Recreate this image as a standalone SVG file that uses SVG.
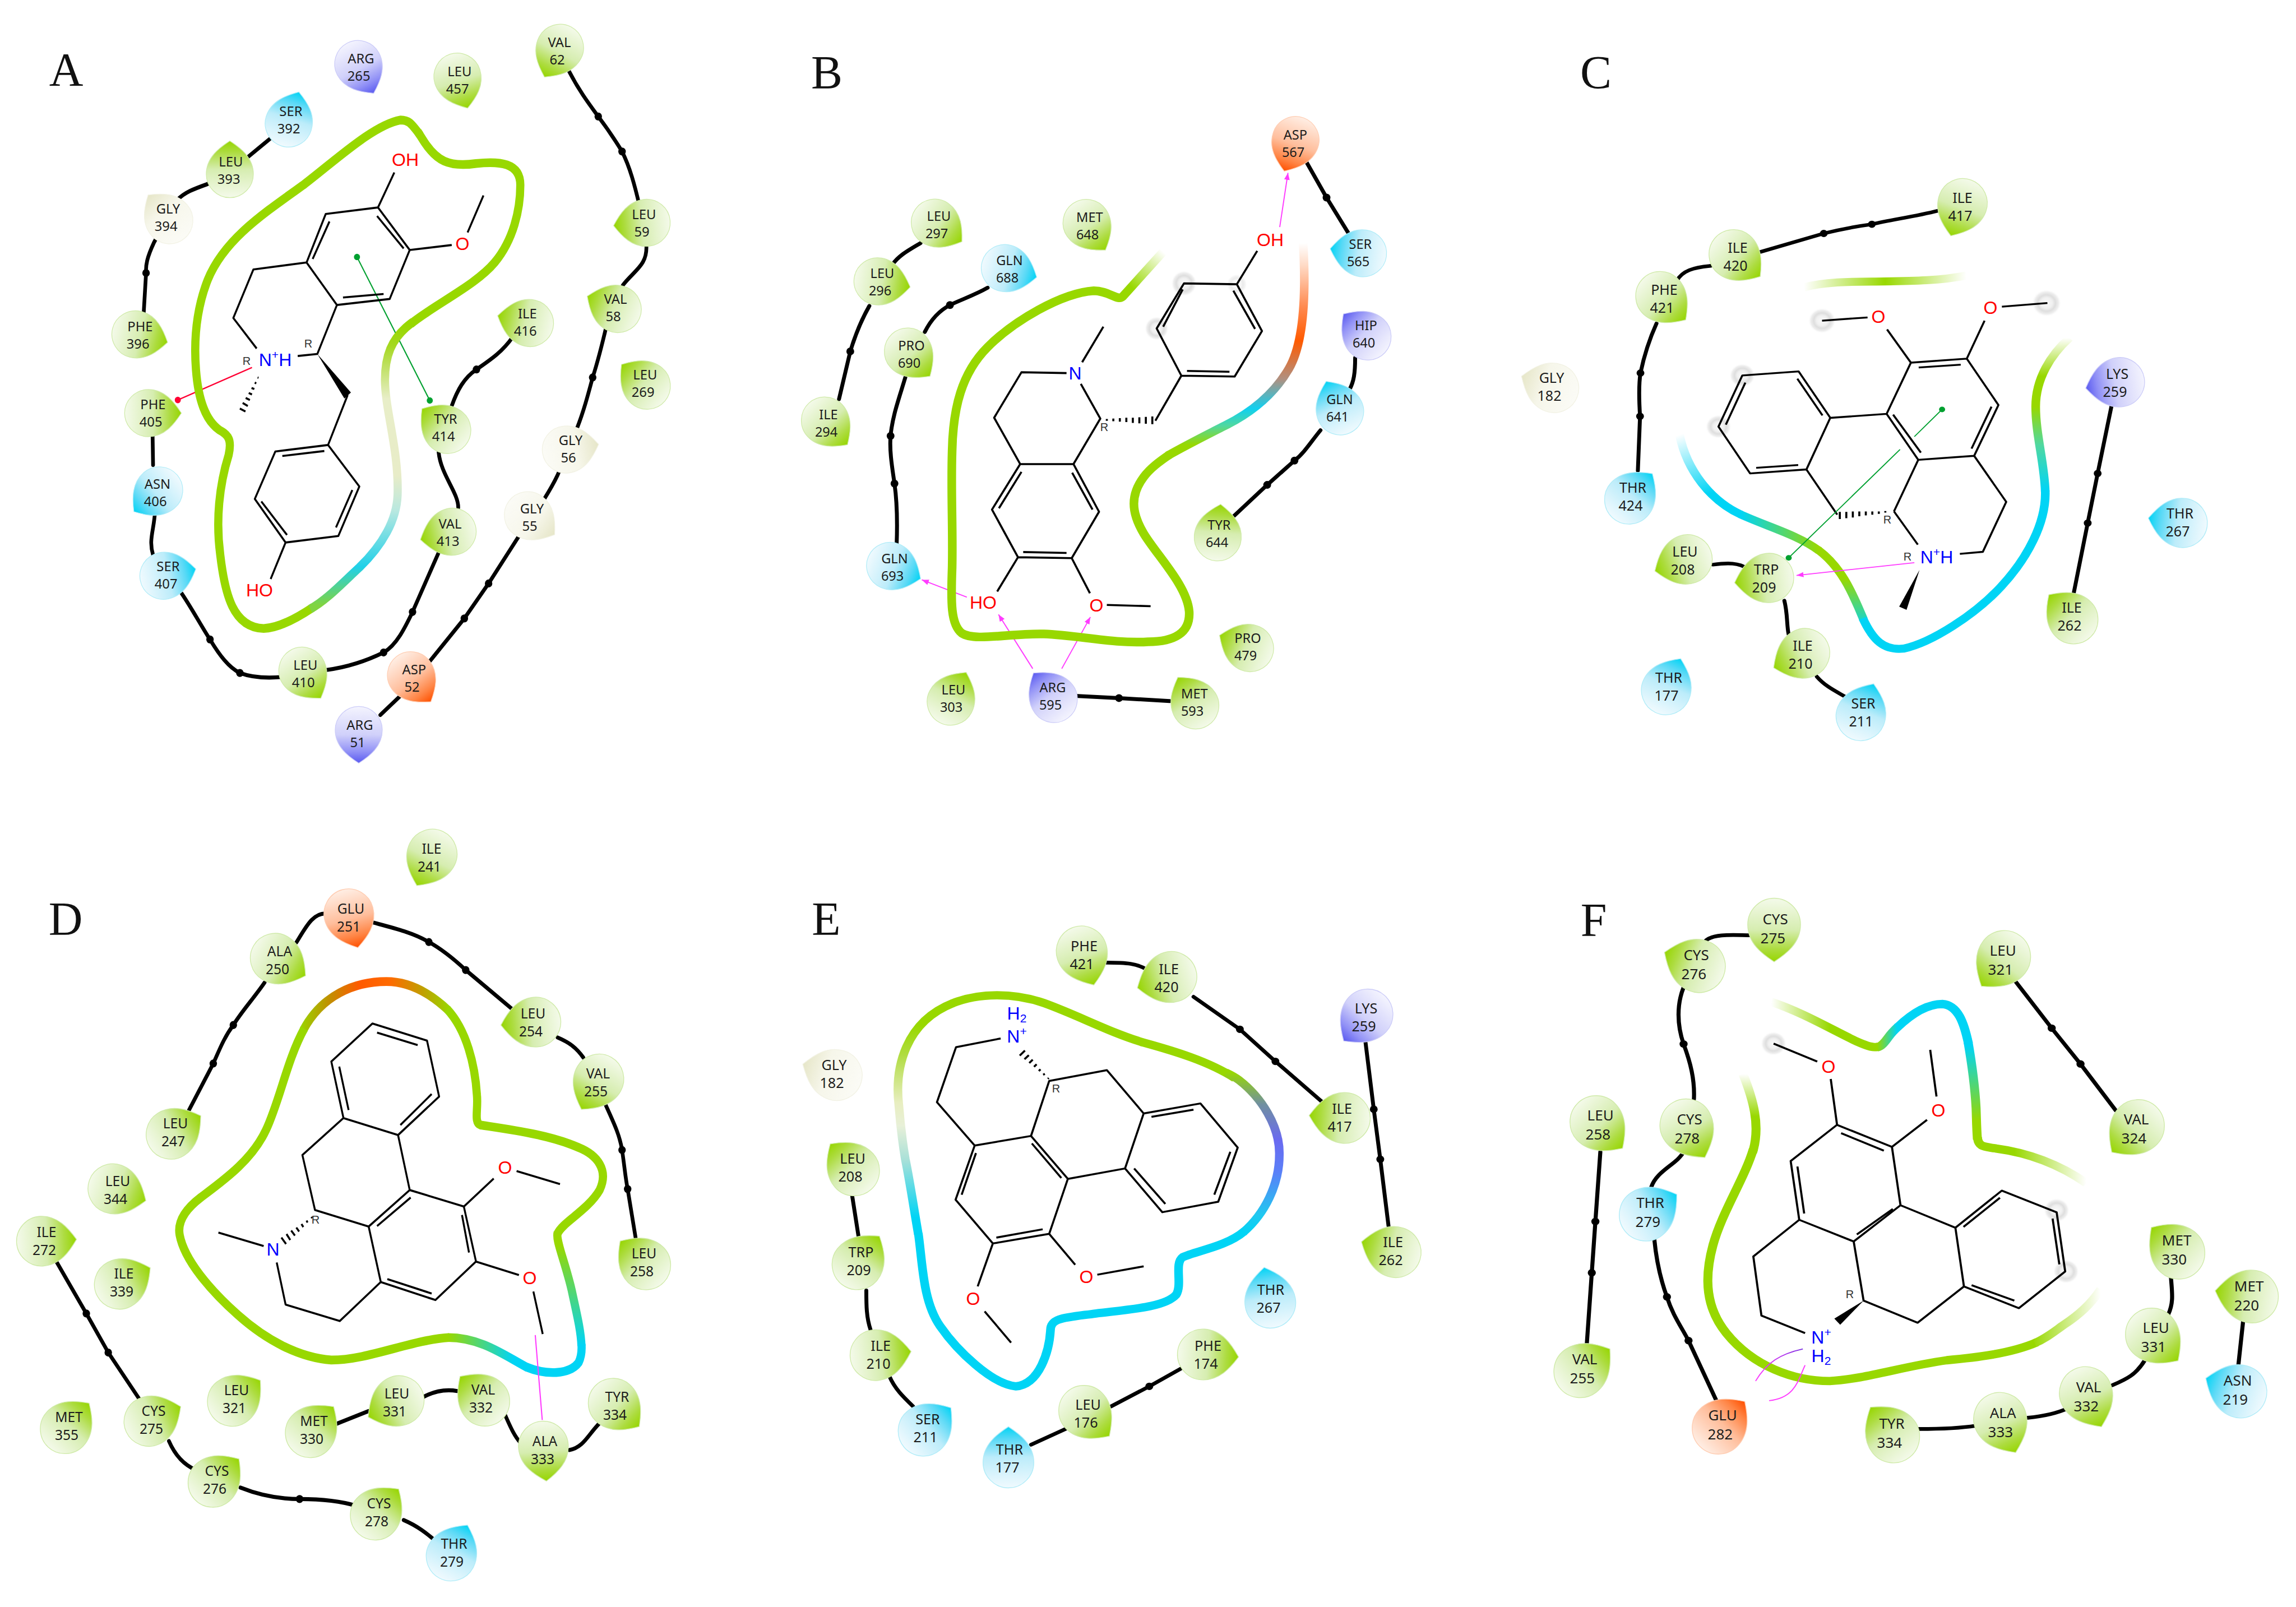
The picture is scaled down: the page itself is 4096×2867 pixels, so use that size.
<svg xmlns="http://www.w3.org/2000/svg" width="4096" height="2867" viewBox="0 0 4096 2867">
<style>
text{font-family:"Noto Sans","Open Sans","Liberation Sans",sans-serif;fill:#1c1c1c}
.n text{text-anchor:middle}
.pA .n{font-size:23.8px}.pB .n{font-size:23.6px}.pC .n{font-size:25px}.pD .n{font-size:24.6px}.pE .n{font-size:25.2px}.pF .n{font-size:26px}
.pA use{scale:.955}.pB use{scale:.955}.pC use{scale:1}.pD use{scale:1.01}.pE use{scale:1.03}.pF use{scale:1.07}
.bb,.rb,.m,.t{fill:none;stroke-linejoin:round}
.bb{stroke:#000;stroke-linecap:round}
.d{fill:#000}
.rb{stroke:#98d800;stroke-linecap:butt}
.m{stroke:#000}
.wedge{fill:#000}
.pA .bb,.pD .bb{stroke-width:8}.pB .bb,.pC .bb,.pE .bb,.pF .bb{stroke-width:9}
.pA .rb,.pD .rb{stroke-width:17.5}.pB .rb,.pC .rb,.pE .rb,.pF .rb{stroke-width:20}
.pA .m,.pD .m{stroke-width:4.1}.pB .m,.pC .m,.pE .m,.pF .m{stroke-width:4.7}
.t{stroke-width:2.5}
.mg{stroke:#ff3cff}.gn{stroke:#00a030}.rd{stroke:#ff0033}
.l{font-family:"Liberation Sans",Arial,sans-serif;font-size:32px;text-anchor:middle;dominant-baseline:central}
.ox{fill:#ff0000}.az{fill:#0000ff}
.l.r{font-size:20px;fill:#333}
.s{font-size:21px}
.L{font-family:"Liberation Serif","Times New Roman",serif;font-size:84px;text-anchor:middle;fill:#111}
</style>
<defs>
<linearGradient id="gg" gradientUnits="userSpaceOnUse" x1="-51" x2="55" y1="0" y2="0"><stop offset="0" stop-color="#f4faea"/><stop offset=".5" stop-color="#d6edb0"/><stop offset=".8" stop-color="#addc40"/><stop offset="1" stop-color="#96d600"/></linearGradient>
<linearGradient id="gc" gradientUnits="userSpaceOnUse" x1="-51" x2="55" y1="0" y2="0"><stop offset="0" stop-color="#f0fafe"/><stop offset=".5" stop-color="#bcecfa"/><stop offset=".8" stop-color="#58d9f6"/><stop offset="1" stop-color="#00d4f5"/></linearGradient>
<linearGradient id="gv" gradientUnits="userSpaceOnUse" x1="-51" x2="55" y1="0" y2="0"><stop offset="0" stop-color="#f4f4fe"/><stop offset=".5" stop-color="#d0d0fa"/><stop offset=".8" stop-color="#9090f6"/><stop offset="1" stop-color="#5a5af0"/></linearGradient>
<linearGradient id="go" gradientUnits="userSpaceOnUse" x1="-51" x2="55" y1="0" y2="0"><stop offset="0" stop-color="#ffeee4"/><stop offset=".5" stop-color="#ffbe9c"/><stop offset=".8" stop-color="#ff8444"/><stop offset="1" stop-color="#ff5000"/></linearGradient>
<linearGradient id="gw" gradientUnits="userSpaceOnUse" x1="-51" x2="55" y1="0" y2="0"><stop offset="0" stop-color="#fbfbf6"/><stop offset=".6" stop-color="#f6f6ea"/><stop offset="1" stop-color="#e6e6c8"/></linearGradient>
<path id="dr" d="M55 0C42-20 24-44-7-44C-31-44-51-24-51 0C-51 24-31 44-7 44C24 44 42 20 55 0Z" stroke-width="1.3"/>
<g id="g"><use href="#dr" fill="url(#gg)" stroke="#cfeaa8" style="scale:1"/></g>
<g id="c"><use href="#dr" fill="url(#gc)" stroke="#b0ecf8" style="scale:1"/></g>
<g id="v"><use href="#dr" fill="url(#gv)" stroke="#ccccf8" style="scale:1"/></g>
<g id="o"><use href="#dr" fill="url(#go)" stroke="#ffcdb2" style="scale:1"/></g>
<g id="w"><use href="#dr" fill="url(#gw)" stroke="#f2f2e4" style="scale:1"/></g>
<radialGradient id="hl"><stop offset="0" stop-color="#fafafa"/><stop offset=".4" stop-color="#f0f0f0"/><stop offset=".6" stop-color="#dedede"/><stop offset=".82" stop-color="#efefef"/><stop offset="1" stop-color="#fff" stop-opacity="0"/></radialGradient>
<marker id="ah" viewBox="0 0 10 8" refX="10" refY="4" markerWidth="6.5" markerHeight="5.2" orient="auto"><path d="M0 0L10 4L0 8Z" fill="#ff3cff"/></marker>
<linearGradient id="ra" gradientUnits="userSpaceOnUse" x1="0" x2="0" y1="1240" y2="650"><stop offset=".05" stop-color="#80d440"/><stop offset=".18" stop-color="#20d0e8"/><stop offset=".37" stop-color="#b8e8e0"/><stop offset=".49" stop-color="#e8ecc8"/><stop offset=".75" stop-color="#e8eec8"/><stop offset=".93" stop-color="#a5d820"/><stop offset="1" stop-color="#98d800"/></linearGradient>
<linearGradient id="rb1" gradientUnits="userSpaceOnUse" x1="875" y1="400" x2="800" y2="480"><stop offset="0" stop-color="#fff"/><stop offset="1" stop-color="#98d800"/></linearGradient>
<linearGradient id="rb2" gradientUnits="userSpaceOnUse" x1="0" x2="0" y1="870" y2="380"><stop offset=".05" stop-color="#98d800"/><stop offset=".14" stop-color="#50d8a0"/><stop offset=".22" stop-color="#10d0f0"/><stop offset=".36" stop-color="#b09080"/><stop offset=".54" stop-color="#ff5a00"/><stop offset=".7" stop-color="#ff8a50"/><stop offset=".9" stop-color="#ffdcc8"/><stop offset="1" stop-color="#fff"/></linearGradient>
<linearGradient id="rc1" gradientUnits="userSpaceOnUse" x1="665" x2="1040" y1="0" y2="0"><stop offset="0" stop-color="#fff"/><stop offset=".5" stop-color="#98d800"/><stop offset="1" stop-color="#fff"/></linearGradient>
<linearGradient id="rc2" gradientUnits="userSpaceOnUse" x1="378" y1="760" x2="440" y2="910"><stop offset="0" stop-color="#fff"/><stop offset="1" stop-color="#00d4f5"/></linearGradient>
<linearGradient id="rc3" gradientUnits="userSpaceOnUse" x1="520" x2="700" y1="0" y2="0"><stop offset="0" stop-color="#00d4f5"/><stop offset="1" stop-color="#98d800"/></linearGradient>
<linearGradient id="rc4" gradientUnits="userSpaceOnUse" x1="0" x2="0" y1="1120" y2="1250"><stop offset="0" stop-color="#98d800"/><stop offset="1" stop-color="#00d4f5"/></linearGradient>
<linearGradient id="rc5" gradientUnits="userSpaceOnUse" x1="0" x2="0" y1="900" y2="518"><stop offset="0" stop-color="#00d4f5"/><stop offset=".3" stop-color="#50d8a0"/><stop offset=".55" stop-color="#98d800"/><stop offset=".75" stop-color="#98d800"/><stop offset="1" stop-color="#fff"/></linearGradient>
<linearGradient id="rd1" gradientUnits="userSpaceOnUse" x1="640" x2="965" y1="0" y2="0"><stop offset="0" stop-color="#98d800"/><stop offset=".2" stop-color="#c09000"/><stop offset=".4" stop-color="#ff5a00"/><stop offset=".6" stop-color="#ff6a00"/><stop offset=".82" stop-color="#c0a000"/><stop offset="1" stop-color="#98d800"/></linearGradient>
<linearGradient id="rd2" gradientUnits="userSpaceOnUse" x1="960" x2="1100" y1="0" y2="0"><stop offset="0" stop-color="#98d800"/><stop offset="1" stop-color="#00d4f5"/></linearGradient>
<linearGradient id="rd3" gradientUnits="userSpaceOnUse" x1="0" x2="0" y1="1070" y2="870"><stop offset="0" stop-color="#00d4f5"/><stop offset="1" stop-color="#98d800"/></linearGradient>
<linearGradient id="re1" gradientUnits="userSpaceOnUse" x1="0" x2="0" y1="790" y2="330"><stop offset="0" stop-color="#00d4f5"/><stop offset=".3" stop-color="#a8e0d8"/><stop offset=".48" stop-color="#e8f0d8"/><stop offset=".6" stop-color="#e8eec0"/><stop offset=".85" stop-color="#b0dc40"/><stop offset="1" stop-color="#98d800"/></linearGradient>
<linearGradient id="re2" gradientUnits="userSpaceOnUse" x1="0" x2="0" y1="440" y2="830"><stop offset="0" stop-color="#98d800"/><stop offset=".2" stop-color="#7090a0"/><stop offset=".42" stop-color="#6a6af0"/><stop offset=".62" stop-color="#5a80f8"/><stop offset=".88" stop-color="#20c8f0"/><stop offset="1" stop-color="#00d4f5"/></linearGradient>
<linearGradient id="rf1" gradientUnits="userSpaceOnUse" x1="510" x2="640" y1="0" y2="0"><stop offset="0" stop-color="#fff"/><stop offset="1" stop-color="#98d800"/></linearGradient>
<linearGradient id="rf2" gradientUnits="userSpaceOnUse" x1="745" x2="790" y1="0" y2="0"><stop offset="0" stop-color="#98d800"/><stop offset="1" stop-color="#00d4f5"/></linearGradient>
<linearGradient id="rf3" gradientUnits="userSpaceOnUse" x1="0" x2="0" y1="440" y2="620"><stop offset="0" stop-color="#00d4f5"/><stop offset="1" stop-color="#98d800"/></linearGradient>
<linearGradient id="rf4" gradientUnits="userSpaceOnUse" x1="1050" x2="1210" y1="0" y2="0"><stop offset="0" stop-color="#98d800"/><stop offset="1" stop-color="#fff"/></linearGradient>
<linearGradient id="rf5" gradientUnits="userSpaceOnUse" x1="0" x2="0" y1="508" y2="610"><stop offset="0" stop-color="#fff"/><stop offset="1" stop-color="#98d800"/></linearGradient>
<linearGradient id="rf6" gradientUnits="userSpaceOnUse" x1="1090" x2="1242" y1="0" y2="0"><stop offset="0" stop-color="#98d800"/><stop offset="1" stop-color="#fff"/></linearGradient>
<linearGradient id="fp" gradientUnits="userSpaceOnUse" x1="580" x2="475" y1="0" y2="0"><stop offset="0" stop-color="#7a30e0"/><stop offset="1" stop-color="#ff3cff"/></linearGradient>
</defs>
<rect width="4096" height="2867" fill="#fff"/>

<!-- PANEL A -->
<g id="panel-a" class="pA">
<text class="L" x="118" y="153">A</text>
<g transform="scale(.8325,.892)">
<g id="a-connectors">
<path class="bb" d="M1218,140C1240,180 1260,205 1282,233C1300,255 1318,280 1333,303C1350,335 1360,370 1370,410L1385,490C1388,530 1360,540 1335,570L1300,650C1290,690 1282,720 1270,755C1260,790 1250,825 1235,860L1195,950C1185,970 1175,985 1165,1000L1110,1075L1047,1167L995,1237L925,1318L860,1390L815,1430"/>
<path class="bb" d="M578,278L530,315L445,368C415,378 395,385 380,400L330,485C315,515 312,530 313,546L308,625"/>
<path class="bb" d="M327,870L328,930M332,1025C330,1060 318,1080 328,1110M388,1185C410,1215 430,1250 450,1279C470,1310 490,1335 514,1346C540,1355 570,1357 605,1354M700,1340C740,1335 785,1322 822,1305C850,1290 868,1255 884,1224L940,1105M982,1015C982,985 945,950 940,905M968,812C980,780 995,755 1021,739C1050,720 1075,705 1098,675"/>
<circle class="d" cx="1282" cy="233" r="8"/><circle class="d" cx="1333" cy="303" r="8"/><circle class="d" cx="1270" cy="755" r="8"/><circle class="d" cx="1047" cy="1167" r="8"/><circle class="d" cx="995" cy="1237" r="8"/><circle class="d" cx="313" cy="546" r="8"/><circle class="d" cx="450" cy="1279" r="8"/><circle class="d" cx="514" cy="1346" r="8"/><circle class="d" cx="822" cy="1305" r="8"/><circle class="d" cx="884" cy="1224" r="8"/><circle class="d" cx="1021" cy="739" r="8"/>
<path class="t rd" d="M540,735L381,800"/><circle cx="381" cy="800" r="6.5" fill="#ff0033"/>
<path class="t gn" d="M765,514L921,801"/><circle cx="765" cy="514" r="6.5" fill="#00a030"/><circle cx="921" cy="801" r="6.5" fill="#00a030"/>
</g>
<g id="a-pocket">
<path class="rb" d="M900,270C880,245 875,240 858,240C800,250 720,320 650,370C560,430 480,480 445,560C420,620 415,680 420,740C425,800 440,840 470,860C490,870 497,880 490,910C470,970 462,1040 472,1110C482,1190 500,1255 565,1257C595,1256 630,1240 670,1215"/>
<path class="rb" style="stroke:url(#ra)" d="M665,1218C700,1200 735,1165 770,1135C820,1090 850,1040 852,990C855,900 825,820 825,760C825,710 840,680 870,655C875,651 880,647 885,644"/>
<path class="rb" d="M880,648C930,610 1020,570 1060,525C1100,480 1115,420 1115,370C1115,325 1070,322 1020,327C960,335 935,320 910,285L895,263"/>
</g>
<g id="a-ligand">
<path class="m" d="M698,428L810,415L878,500L835,598L722,610L657,525ZM706,443L670,518M808,432L865,497M735,595L822,588M810,415L845,345M878,500L968,490M1002,465L1036,391M657,525L543,539L500,636L550,697M638,712L680,708L722,610M745,790L703,890M703,890L770,973L725,1072L612,1085L546,998L590,903ZM605,912L695,902M755,980L720,1055M560,1003L615,1070M612,1085L580,1158"/>
<polygon class="wedge" points="680,708 752,785 738,797"/>
<path class="m" d="M552,755L554,755.5M546,765L549,767M539,776L545,778M533,786L540,789M526.5,796L535.5,800M520,806L531,812M514,817L526,823"/>
</g>
</g>
<text class="l ox" x="723" y="285">OH</text><text class="l ox" x="825" y="435">O</text><text class="l az" x="491" y="642">N<tspan class="s" dy="-10">+</tspan><tspan dy="10">H</tspan></text><text class="l ox" x="463" y="1053">HO</text><text class="l r" x="440" y="644">R</text><text class="l r" x="550" y="613">R</text>
<g id="a-val62" class="n" transform="translate(996,91)"><use href="#g" transform="rotate(118)"/><text x=".08em" y="-.29em">VAL</text><text x="-.08em" y="1.01em">62</text></g>
<g id="a-arg265" class="n" transform="translate(642,120)"><use href="#v" transform="rotate(62)"/><text x=".08em" y="-.29em">ARG</text><text x="-.08em" y="1.01em">265</text></g>
<g id="a-leu457" class="n" transform="translate(818,143)"><use href="#g" transform="rotate(72)"/><text x=".08em" y="-.29em">LEU</text><text x="-.08em" y="1.01em">457</text></g>
<g id="a-ser392" class="n" transform="translate(517,214)"><use href="#c" transform="rotate(-72)"/><text x=".08em" y="-.29em">SER</text><text x="-.08em" y="1.01em">392</text></g>
<g id="a-leu393" class="n" transform="translate(410,304)"><use href="#g" transform="rotate(-90)"/><text x=".08em" y="-.29em">LEU</text><text x="-.08em" y="1.01em">393</text></g>
<g id="a-gly394" class="n" transform="translate(298,388)"><use href="#w" transform="rotate(-130)"/><text x=".08em" y="-.29em">GLY</text><text x="-.08em" y="1.01em">394</text></g>
<g id="a-phe396" class="n" transform="translate(248,598)"><use href="#g" transform="rotate(14)"/><text x=".08em" y="-.29em">PHE</text><text x="-.08em" y="1.01em">396</text></g>
<g id="a-phe405" class="n" transform="translate(271,737)"><use href="#g" transform="rotate(0)"/><text x=".08em" y="-.29em">PHE</text><text x="-.08em" y="1.01em">405</text></g>
<g id="a-asn406" class="n" transform="translate(279,879)"><use href="#c" transform="rotate(140)"/><text x=".08em" y="-.29em">ASN</text><text x="-.08em" y="1.01em">406</text></g>
<g id="a-ser407" class="n" transform="translate(298,1026)"><use href="#c" transform="rotate(-12)"/><text x=".08em" y="-.29em">SER</text><text x="-.08em" y="1.01em">407</text></g>
<g id="a-leu410" class="n" transform="translate(543,1202)"><use href="#g" transform="rotate(56)"/><text x=".08em" y="-.29em">LEU</text><text x="-.08em" y="1.01em">410</text></g>
<g id="a-asp52" class="n" transform="translate(737,1210)"><use href="#o" transform="rotate(53)"/><text x=".08em" y="-.29em">ASP</text><text x="-.08em" y="1.01em">52</text></g>
<g id="a-arg51" class="n" transform="translate(640,1309)"><use href="#v" transform="rotate(90)"/><text x=".08em" y="-.29em">ARG</text><text x="-.08em" y="1.01em">51</text></g>
<g id="a-gly55" class="n" transform="translate(947,923)"><use href="#w" transform="rotate(36)"/><text x=".08em" y="-.29em">GLY</text><text x="-.08em" y="1.01em">55</text></g>
<g id="a-gly56" class="n" transform="translate(1016,801)"><use href="#w" transform="rotate(-9)"/><text x=".08em" y="-.29em">GLY</text><text x="-.08em" y="1.01em">56</text></g>
<g id="a-val413" class="n" transform="translate(801,950)"><use href="#g" transform="rotate(166)"/><text x=".08em" y="-.29em">VAL</text><text x="-.08em" y="1.01em">413</text></g>
<g id="a-tyr414" class="n" transform="translate(793,763)"><use href="#g" transform="rotate(-140)"/><text x=".08em" y="-.29em">TYR</text><text x="-.08em" y="1.01em">414</text></g>
<g id="a-ile416" class="n" transform="translate(939,575)"><use href="#g" transform="rotate(-167)"/><text x=".08em" y="-.29em">ILE</text><text x="-.08em" y="1.01em">416</text></g>
<g id="a-leu269" class="n" transform="translate(1149,684)"><use href="#g" transform="rotate(-140)"/><text x=".08em" y="-.29em">LEU</text><text x="-.08em" y="1.01em">269</text></g>
<g id="a-val58" class="n" transform="translate(1096,549)"><use href="#g" transform="rotate(-157)"/><text x=".08em" y="-.29em">VAL</text><text x="-.08em" y="1.01em">58</text></g>
<g id="a-leu59" class="n" transform="translate(1147,398)"><use href="#g" transform="rotate(175)"/><text x=".08em" y="-.29em">LEU</text><text x="-.08em" y="1.01em">59</text></g>
</g>

<!-- PANEL B -->
<g id="panel-b" class="pB">
<text class="L" x="1475" y="158">B</text>
<g transform="translate(1398.6,139.9) scale(.7731)">
<g id="b-connectors">
<path class="bb" d="M127,740L153,630C165,590 180,555 197,525M250,430C265,408 290,395 315,380"/>
<path class="bb" d="M325,585C340,555 360,535 383,523C410,510 440,500 470,483"/>
<path class="bb" d="M280,690C265,740 250,780 246,825C243,860 250,900 255,935C260,970 262,1020 260,1075"/>
<path class="bb" d="M1205,192L1252,275L1303,358"/>
<path class="bb" d="M1318,645C1318,680 1315,700 1305,718M1238,812C1215,840 1200,865 1178,882L1115,938L1038,1010"/>
<path class="bb" d="M672,1425L773,1430L890,1437"/>
<circle class="d" cx="153" cy="630" r="9"/><circle class="d" cx="383" cy="523" r="9"/><circle class="d" cx="246" cy="825" r="9"/><circle class="d" cx="255" cy="935" r="9"/><circle class="d" cx="1252" cy="275" r="9"/><circle class="d" cx="1178" cy="882" r="9"/><circle class="d" cx="1115" cy="938" r="9"/><circle class="d" cx="773" cy="1430" r="9"/>
<path class="t mg" marker-end="url(#ah)" d="M1144,343L1163,218"/>
<path class="t mg" marker-end="url(#ah)" d="M422,1197L318,1157"/>
<path class="t mg" marker-end="url(#ah)" d="M574,1362L495,1237"/>
<path class="t mg" marker-end="url(#ah)" d="M641,1362L707,1243"/>
</g>
<g id="b-pocket">
<path class="rb" style="stroke:url(#rb1)" d="M875,400L782,503C770,515 750,490 715,490C640,495 530,560 470,620C410,680 390,760 388,860C385,950 390,1040 388,1130C385,1210 385,1260 410,1280C440,1300 520,1280 600,1282C680,1285 760,1305 840,1300C900,1300 938,1280 935,1230C930,1170 860,1100 830,1050C800,1000 800,960 830,920C845,900 865,885 890,868"/>
<path class="rb" style="stroke:url(#rb2)" d="M885,871C925,848 975,823 1020,800C1080,770 1130,730 1165,670C1200,610 1205,500 1198,380"/>
</g>
<g id="b-ligand">
<circle cx="923" cy="473" r="30" fill="url(#hl)"/><circle cx="860" cy="577" r="28" fill="url(#hl)"/><circle cx="1045" cy="475" r="24" fill="url(#hl)" opacity=".6"/>
<path class="m" d="M923,473L1045,475L1103,583L1040,688L917,686L860,577ZM920,487L875,573M1037,490L1087,578M930,675L1028,677M1045,475L1092,398M917,686L857,790M688,655L737,573M652,680L548,678L485,783L545,890L668,890L730,785L685,705M668,890L727,1000L664,1107L540,1105L480,995L545,890M665,910L712,995M548,908L496,992M552,1093L652,1095M540,1105L492,1184M664,1107L706,1188M745,1215L846,1218"/>
<path class="m" d="M745,786V790M760,785V791M775,784V792M790,783V793M805,783V795M820,782V796M835,781V797M850,780V798"/>
</g>
</g>
<text class="l ox" x="2266" y="428">OH</text><text class="l az" x="1918" y="666">N</text><text class="l ox" x="1754" y="1075">HO</text><text class="l ox" x="1956" y="1080">O</text><text class="l r" x="1970" y="762">R</text>
<g id="b-asp567" class="n" transform="translate(2309,256)"><use href="#o" transform="rotate(110)"/><text x=".08em" y="-.29em">ASP</text><text x="-.08em" y="1.01em">567</text></g>
<g id="b-leu297" class="n" transform="translate(1673,401)"><use href="#g" transform="rotate(35)"/><text x=".08em" y="-.29em">LEU</text><text x="-.08em" y="1.01em">297</text></g>
<g id="b-met648" class="n" transform="translate(1942,403)"><use href="#g" transform="rotate(55)"/><text x=".08em" y="-.29em">MET</text><text x="-.08em" y="1.01em">648</text></g>
<g id="b-gln688" class="n" transform="translate(1799,480)"><use href="#c" transform="rotate(16)"/><text x=".08em" y="-.29em">GLN</text><text x="-.08em" y="1.01em">688</text></g>
<g id="b-ser565" class="n" transform="translate(2425,451)"><use href="#c" transform="rotate(-172)"/><text x=".08em" y="-.29em">SER</text><text x="-.08em" y="1.01em">565</text></g>
<g id="b-leu296" class="n" transform="translate(1572,503)"><use href="#g" transform="rotate(10)"/><text x=".08em" y="-.29em">LEU</text><text x="-.08em" y="1.01em">296</text></g>
<g id="b-pro690" class="n" transform="translate(1624,632)"><use href="#g" transform="rotate(48)"/><text x=".08em" y="-.29em">PRO</text><text x="-.08em" y="1.01em">690</text></g>
<g id="b-ile294" class="n" transform="translate(1476,755)"><use href="#g" transform="rotate(47)"/><text x=".08em" y="-.29em">ILE</text><text x="-.08em" y="1.01em">294</text></g>
<g id="b-gln693" class="n" transform="translate(1594,1012)"><use href="#c" transform="rotate(23)"/><text x=".08em" y="-.29em">GLN</text><text x="-.08em" y="1.01em">693</text></g>
<g id="b-hip640" class="n" transform="translate(2435,596)"><use href="#v" transform="rotate(-137)"/><text x=".08em" y="-.29em">HIP</text><text x="-.08em" y="1.01em">640</text></g>
<g id="b-gln641" class="n" transform="translate(2388,728)"><use href="#c" transform="rotate(-115)"/><text x=".08em" y="-.29em">GLN</text><text x="-.08em" y="1.01em">641</text></g>
<g id="b-tyr644" class="n" transform="translate(2173,952)"><use href="#g" transform="rotate(-85)"/><text x=".08em" y="-.29em">TYR</text><text x="-.08em" y="1.01em">644</text></g>
<g id="b-pro479" class="n" transform="translate(2224,1154)"><use href="#g" transform="rotate(-157)"/><text x=".08em" y="-.29em">PRO</text><text x="-.08em" y="1.01em">479</text></g>
<g id="b-arg595" class="n" transform="translate(1876,1242)"><use href="#v" transform="rotate(-128)"/><text x=".08em" y="-.29em">ARG</text><text x="-.08em" y="1.01em">595</text></g>
<g id="b-leu303" class="n" transform="translate(1699,1246)"><use href="#g" transform="rotate(-62)"/><text x=".08em" y="-.29em">LEU</text><text x="-.08em" y="1.01em">303</text></g>
<g id="b-met593" class="n" transform="translate(2129,1253)"><use href="#g" transform="rotate(-122)"/><text x=".08em" y="-.29em">MET</text><text x="-.08em" y="1.01em">593</text></g>
</g>

<!-- PANEL C -->
<g id="panel-c" class="pC">
<text class="L" x="2847" y="158">C</text>
<g transform="translate(2703.9,233.1) scale(.7731,.7136)">
<g id="c-connectors">
<path class="bb" d="M975,200C920,215 870,222 822,234C780,240 745,248 711,257L565,303M450,338C410,342 385,350 372,375M325,482C305,530 295,570 288,606C283,640 285,680 287,714L282,850"/>
<path class="bb" d="M455,1085C490,1080 515,1080 535,1095M620,1175C628,1210 625,1235 630,1260M695,1365C715,1390 740,1402 765,1418"/>
<path class="bb" d="M1375,688L1343,857L1320,981L1288,1155"/>
<circle class="d" cx="822" cy="234" r="9"/><circle class="d" cx="711" cy="257" r="9"/><circle class="d" cx="288" cy="606" r="9"/><circle class="d" cx="287" cy="714" r="9"/><circle class="d" cx="1343" cy="857" r="9"/><circle class="d" cx="1320" cy="981" r="9"/>
</g>
<g id="c-pocket">
<path class="rb" style="stroke:url(#rc1)" d="M665,392C720,375 800,378 850,377C920,376 980,375 1040,362"/>
<path class="rb" style="stroke:url(#rc2)" d="M378,760C395,850 450,925 520,960"/>
<path class="rb" style="stroke:url(#rc3)" d="M518,959C580,990 650,1010 700,1050"/>
<path class="rb" style="stroke:url(#rc4)" d="M698,1048C750,1090 775,1150 800,1215L803,1223"/>
<path class="rb" style="stroke:#00d4f5" d="M801,1219C825,1275 850,1300 895,1295C960,1280 1060,1210 1120,1140C1180,1070 1225,980 1222,900"/>
<path class="rb" style="stroke:url(#rc5)" d="M1222,902C1220,830 1200,760 1200,690C1200,620 1235,560 1278,518"/>
</g>
<g id="c-ligand">
<circle cx="707" cy="475" r="32" fill="url(#hl)"/><circle cx="1225" cy="431" r="34" fill="url(#hl)"/><circle cx="523" cy="612" r="30" fill="url(#hl)"/><circle cx="468" cy="740" r="30" fill="url(#hl)"/>
<path class="m" d="M523,612L653,602L726,718L671,847L541,857L468,740ZM650,620L708,712M530,630L485,735M555,843L652,836M726,718L856,708L912,580L1041,570L1114,686L1058,813L929,823L856,708M930,592L1027,585M1098,690L1052,795M871,710L935,805M912,580L857,497M812,467L707,475M1041,570L1082,475M1122,440L1227,431M671,847L742,960M873,952L929,823M873,952L928,1035M1025,1058L1078,1053L1132,928L1058,813"/>
<path class="m" d="M748,953V971M763,953V969M778,952V967M793,952V964M808,952V962M823,952V960M838,952V958M853,951V955"/>
<polygon class="wedge" points="932,1098 885,1190 902,1198"/>
<path class="t gn" d="M984,697L920,765M887,797L630,1068"/><circle cx="984" cy="697" r="7" fill="#00a030"/><circle cx="630" cy="1068" r="7" fill="#00a030"/>
<path class="t mg" marker-end="url(#ah)" d="M920,1080L648,1112"/>
</g>
</g>
<text class="l ox" x="3351" y="565">O</text><text class="l ox" x="3551" y="549">O</text><text class="l az" x="3455" y="994">N<tspan class="s" dy="-10">+</tspan><tspan dy="10">H</tspan></text><text class="l r" x="3367" y="927">R</text><text class="l r" x="3403" y="993">R</text>
<g id="c-ile417" class="n" transform="translate(3499,369)"><use href="#g" transform="rotate(110)"/><text x=".08em" y="-.29em">ILE</text><text x="-.08em" y="1.01em">417</text></g>
<g id="c-ile420" class="n" transform="translate(3098,458)"><use href="#g" transform="rotate(40)"/><text x=".08em" y="-.29em">ILE</text><text x="-.08em" y="1.01em">420</text></g>
<g id="c-phe421" class="n" transform="translate(2967,533)"><use href="#g" transform="rotate(43)"/><text x=".08em" y="-.29em">PHE</text><text x="-.08em" y="1.01em">421</text></g>
<g id="c-gly182" class="n" transform="translate(2766,690)"><use href="#w" transform="rotate(-160)"/><text x=".08em" y="-.29em">GLY</text><text x="-.08em" y="1.01em">182</text></g>
<g id="c-lys259" class="n" transform="translate(3775,683)"><use href="#v" transform="rotate(170)"/><text x=".08em" y="-.29em">LYS</text><text x="-.08em" y="1.01em">259</text></g>
<g id="c-thr424" class="n" transform="translate(2911,886)"><use href="#c" transform="rotate(-48)"/><text x=".08em" y="-.29em">THR</text><text x="-.08em" y="1.01em">424</text></g>
<g id="c-thr267" class="n" transform="translate(3887,932)"><use href="#c" transform="rotate(188)"/><text x=".08em" y="-.29em">THR</text><text x="-.08em" y="1.01em">267</text></g>
<g id="c-leu208" class="n" transform="translate(3004,1000)"><use href="#g" transform="rotate(160)"/><text x=".08em" y="-.29em">LEU</text><text x="-.08em" y="1.01em">208</text></g>
<g id="c-trp209" class="n" transform="translate(3149,1032)"><use href="#g" transform="rotate(172)"/><text x=".08em" y="-.29em">TRP</text><text x="-.08em" y="1.01em">209</text></g>
<g id="c-ile262" class="n" transform="translate(3694,1100)"><use href="#g" transform="rotate(-135)"/><text x=".08em" y="-.29em">ILE</text><text x="-.08em" y="1.01em">262</text></g>
<g id="c-ile210" class="n" transform="translate(3214,1168)"><use href="#g" transform="rotate(155)"/><text x=".08em" y="-.29em">ILE</text><text x="-.08em" y="1.01em">210</text></g>
<g id="c-thr177" class="n" transform="translate(2975,1225)"><use href="#c" transform="rotate(-65)"/><text x=".08em" y="-.29em">THR</text><text x="-.08em" y="1.01em">177</text></g>
<g id="c-ser211" class="n" transform="translate(3322,1271)"><use href="#c" transform="rotate(-68)"/><text x=".08em" y="-.29em">SER</text><text x="-.08em" y="1.01em">211</text></g>
</g>

<!-- PANEL D -->
<g id="panel-d" class="pD">
<text class="L" x="117" y="1668">D</text>
<g transform="translate(0,1445.2) scale(.8325,.892)">
<g id="d-connectors">
<path class="bb" d="M405,600L457,507C470,480 480,455 500,430C520,400 545,375 567,345M635,265C655,235 670,205 700,207M800,225C840,235 885,245 919,264C950,280 975,300 998,320L1100,400M1195,455C1220,465 1235,475 1250,495M1298,590C1315,625 1328,650 1333,680C1338,710 1340,735 1345,758L1362,855"/>
<path class="bb" d="M122,905L185,1007L232,1085L300,1180M362,1262C375,1290 395,1310 420,1320M515,1355C550,1368 590,1378 642,1378C690,1378 730,1382 765,1392M865,1420C895,1432 915,1447 935,1463"/>
<path class="bb" d="M720,1228L790,1202M905,1175C930,1162 955,1158 980,1162M1080,1205C1090,1225 1100,1250 1115,1265M1220,1280C1250,1275 1260,1250 1283,1228"/>
<circle class="d" cx="457" cy="507" r="8"/><circle class="d" cx="500" cy="430" r="8"/><circle class="d" cx="919" cy="264" r="8"/><circle class="d" cx="998" cy="320" r="8"/><circle class="d" cx="1333" cy="680" r="8"/><circle class="d" cx="1345" cy="758" r="8"/><circle class="d" cx="185" cy="1007" r="8"/><circle class="d" cx="232" cy="1085" r="8"/><circle class="d" cx="642" cy="1378" r="8"/>
</g>
<g id="d-pocket">
<path class="rb" style="stroke:url(#rd1)" d="M650,440C690,370 760,343 828,343C875,343 920,365 960,400"/>
<path class="rb" d="M652,437C615,500 600,580 570,640C540,700 480,740 430,775C395,800 380,825 385,850C395,900 450,960 510,1010C570,1060 640,1095 710,1100C790,1100 880,1060 962,1055"/>
<path class="rb" style="stroke:url(#rd2)" d="M960,1055C1030,1055 1080,1090 1130,1115"/>
<path class="rb" style="stroke:#00d4f5" d="M1128,1114C1170,1130 1220,1130 1240,1105C1246,1093 1247,1080 1246,1068"/>
<path class="rb" style="stroke:url(#rd3)" d="M1246,1072C1245,1040 1234,1000 1225,960C1210,900 1190,860 1195,845"/>
<path class="rb" d="M1195,847C1205,825 1260,800 1285,760C1305,720 1280,690 1240,675C1180,650 1100,640 1030,630C1015,625 1025,600 1022,570C1018,510 1000,440 958,398"/>
</g>
<g id="d-ligand">
<path class="m" d="M798,427L915,461L941,573L853,650L736,616L710,503ZM808,445L895,470M925,568L858,630M747,600L727,513M853,650L878,760M736,616L648,690L675,800L790,833M878,760L994,793L1020,903L933,980L816,944L790,833ZM808,832L880,775M990,810L1005,885M830,938L925,967M816,944L728,1022L612,989L593,905M565,872L468,845M994,793L1058,737M1107,722L1200,748M1020,903L1112,930M1143,963L1163,1048"/>
<path class="m" d="M667,814L669,816M657,821L659,825M646,828L650,834M635,835L641,843M624,841L632,851M614,848L622,860M603,855L613,868"/>
<path class="t mg" d="M1147,1050L1162,1220"/>
</g>
</g>
<text class="l ox" x="901" y="2083">O</text><text class="l ox" x="945" y="2280">O</text><text class="l az" x="487" y="2229">N</text><text class="l r" x="563" y="2176">R</text>
<g id="d-ile241" class="n" transform="translate(768,1530)"><use href="#g" transform="rotate(116)"/><text x=".08em" y="-.29em">ILE</text><text x="-.08em" y="1.01em">241</text></g>
<g id="d-glu251" class="n" transform="translate(624,1637)"><use href="#o" transform="rotate(75)"/><text x=".08em" y="-.29em">GLU</text><text x="-.08em" y="1.01em">251</text></g>
<g id="d-ala250" class="n" transform="translate(497,1713)"><use href="#g" transform="rotate(30)"/><text x=".08em" y="-.29em">ALA</text><text x="-.08em" y="1.01em">250</text></g>
<g id="d-leu254" class="n" transform="translate(949,1824)"><use href="#g" transform="rotate(175)"/><text x=".08em" y="-.29em">LEU</text><text x="-.08em" y="1.01em">254</text></g>
<g id="d-val255" class="n" transform="translate(1065,1931)"><use href="#g" transform="rotate(120)"/><text x=".08em" y="-.29em">VAL</text><text x="-.08em" y="1.01em">255</text></g>
<g id="d-leu247" class="n" transform="translate(311,2020)"><use href="#g" transform="rotate(-32)"/><text x=".08em" y="-.29em">LEU</text><text x="-.08em" y="1.01em">247</text></g>
<g id="d-leu344" class="n" transform="translate(208,2123)"><use href="#g" transform="rotate(20)"/><text x=".08em" y="-.29em">LEU</text><text x="-.08em" y="1.01em">344</text></g>
<g id="d-ile272" class="n" transform="translate(81,2214)"><use href="#g" transform="rotate(-3)"/><text x=".08em" y="-.29em">ILE</text><text x="-.08em" y="1.01em">272</text></g>
<g id="d-leu258" class="n" transform="translate(1147,2252)"><use href="#g" transform="rotate(-137)"/><text x=".08em" y="-.29em">LEU</text><text x="-.08em" y="1.01em">258</text></g>
<g id="d-ile339" class="n" transform="translate(219,2288)"><use href="#g" transform="rotate(-28)"/><text x=".08em" y="-.29em">ILE</text><text x="-.08em" y="1.01em">339</text></g>
<g id="d-leu321" class="n" transform="translate(420,2496)"><use href="#g" transform="rotate(-37)"/><text x=".08em" y="-.29em">LEU</text><text x="-.08em" y="1.01em">321</text></g>
<g id="d-met355" class="n" transform="translate(121,2544)"><use href="#g" transform="rotate(-47)"/><text x=".08em" y="-.29em">MET</text><text x="-.08em" y="1.01em">355</text></g>
<g id="d-cys275" class="n" transform="translate(272,2533)"><use href="#g" transform="rotate(-25)"/><text x=".08em" y="-.29em">CYS</text><text x="-.08em" y="1.01em">275</text></g>
<g id="d-tyr334" class="n" transform="translate(1099,2508)"><use href="#g" transform="rotate(42)"/><text x=".08em" y="-.29em">TYR</text><text x="-.08em" y="1.01em">334</text></g>
<g id="d-val332" class="n" transform="translate(860,2495)"><use href="#g" transform="rotate(-135)"/><text x=".08em" y="-.29em">VAL</text><text x="-.08em" y="1.01em">332</text></g>
<g id="d-leu331" class="n" transform="translate(706,2502)"><use href="#g" transform="rotate(152)"/><text x=".08em" y="-.29em">LEU</text><text x="-.08em" y="1.01em">331</text></g>
<g id="d-met330" class="n" transform="translate(558,2551)"><use href="#g" transform="rotate(-48)"/><text x=".08em" y="-.29em">MET</text><text x="-.08em" y="1.01em">330</text></g>
<g id="d-ala333" class="n" transform="translate(970,2587)"><use href="#g" transform="rotate(85)"/><text x=".08em" y="-.29em">ALA</text><text x="-.08em" y="1.01em">333</text></g>
<g id="d-cys276" class="n" transform="translate(385,2640)"><use href="#g" transform="rotate(-42)"/><text x=".08em" y="-.29em">CYS</text><text x="-.08em" y="1.01em">276</text></g>
<g id="d-cys278" class="n" transform="translate(674,2698)"><use href="#g" transform="rotate(-48)"/><text x=".08em" y="-.29em">CYS</text><text x="-.08em" y="1.01em">278</text></g>
<g id="d-thr279" class="n" transform="translate(808,2770)"><use href="#c" transform="rotate(-62)"/><text x=".08em" y="-.29em">THR</text><text x="-.08em" y="1.01em">279</text></g>
</g>

<!-- PANEL E -->
<g id="panel-e" class="pE">
<text class="L" x="1474" y="1668">E</text>
<g transform="translate(1398.6,1585.1) scale(.7731,.7433)">
<g id="e-connectors">
<path class="bb" d="M745,178C790,178 815,180 838,195M945,260L1052,338L1134,415L1245,515"/>
<path class="bb" d="M1342,370L1361,530L1376,650L1395,810"/>
<path class="bb" d="M157,735L172,835M190,965C190,1000 190,1030 200,1060M243,1170C255,1200 275,1220 298,1243"/>
<path class="bb" d="M570,1335L650,1297M755,1243L843,1195L915,1153"/>
<circle class="d" cx="1052" cy="338" r="9"/><circle class="d" cx="1134" cy="415" r="9"/><circle class="d" cx="1361" cy="530" r="9"/><circle class="d" cx="1376" cy="650" r="9"/><circle class="d" cx="843" cy="1195" r="9"/>
</g>
<g id="e-pocket">
<path class="rb" style="stroke:url(#re1)" d="M310,830C300,770 290,700 280,650C272,600 268,560 265,520C255,430 280,320 390,275"/>
<path class="rb" d="M388,276C450,250 530,250 600,275C680,305 750,345 830,370C900,390 980,415 1040,455"/>
<path class="rb" style="stroke:url(#re2)" d="M1020,442C1030,447 1040,452 1050,460C1100,500 1145,570 1143,640C1143,710 1110,780 1060,825"/>
<path class="rb" style="stroke:#00d4f5" d="M1062,823C1020,860 950,870 920,885C900,900 920,950 905,975C880,1005 800,1010 720,1020C650,1030 615,1030 615,1060C612,1110 590,1190 535,1195C480,1190 400,1110 360,1050C320,990 320,900 310,828"/>
</g>
<g id="e-ligand">
<path class="m" d="M500,360L397,381L353,513L440,617L570,594L612,462L745,436L830,540L961,516L1047,622L1002,752L873,777L787,672L830,540M848,548L945,531M1030,632L993,735M808,672L880,757M570,594L655,697L787,672M655,697L612,829L482,852L396,747L440,617M572,612L640,695M490,838L597,818M443,635L410,735M612,829L672,903M723,927L830,907M482,852L447,955M463,1015L524,1090"/>
<path class="m" d="M609,457L611,455M598,447L602,445M588,438L592,434M577,428L583,422M566,419L574,411M555,410L565,400M544,401L556,389"/>
</g>
</g>
<text class="l az" x="1814" y="1808">H<tspan class="s" dy="8">2</tspan></text><text class="l az" x="1814" y="1849">N<tspan class="s" dy="-10">+</tspan></text><text class="l r" x="1884" y="1942">R</text><text class="l ox" x="1938" y="2278">O</text><text class="l ox" x="1736" y="2317">O</text>
<g id="e-phe421" class="n" transform="translate(1932,1704)"><use href="#g" transform="rotate(70)"/><text x=".08em" y="-.29em">PHE</text><text x="-.08em" y="1.01em">421</text></g>
<g id="e-ile420" class="n" transform="translate(2083,1745)"><use href="#g" transform="rotate(162)"/><text x=".08em" y="-.29em">ILE</text><text x="-.08em" y="1.01em">420</text></g>
<g id="e-lys259" class="n" transform="translate(2435,1815)"><use href="#v" transform="rotate(132)"/><text x=".08em" y="-.29em">LYS</text><text x="-.08em" y="1.01em">259</text></g>
<g id="e-gly182" class="n" transform="translate(1486,1916)"><use href="#w" transform="rotate(-162)"/><text x=".08em" y="-.29em">GLY</text><text x="-.08em" y="1.01em">182</text></g>
<g id="e-ile417" class="n" transform="translate(2392,1994)"><use href="#g" transform="rotate(-176)"/><text x=".08em" y="-.29em">ILE</text><text x="-.08em" y="1.01em">417</text></g>
<g id="e-leu208" class="n" transform="translate(1519,2083)"><use href="#g" transform="rotate(-132)"/><text x=".08em" y="-.29em">LEU</text><text x="-.08em" y="1.01em">208</text></g>
<g id="e-trp209" class="n" transform="translate(1534,2250)"><use href="#g" transform="rotate(-52)"/><text x=".08em" y="-.29em">TRP</text><text x="-.08em" y="1.01em">209</text></g>
<g id="e-ile262" class="n" transform="translate(2483,2232)"><use href="#g" transform="rotate(-163)"/><text x=".08em" y="-.29em">ILE</text><text x="-.08em" y="1.01em">262</text></g>
<g id="e-thr267" class="n" transform="translate(2265,2317)"><use href="#c" transform="rotate(-100)"/><text x=".08em" y="-.29em">THR</text><text x="-.08em" y="1.01em">267</text></g>
<g id="e-phe174" class="n" transform="translate(2153,2417)"><use href="#g" transform="rotate(4)"/><text x=".08em" y="-.29em">PHE</text><text x="-.08em" y="1.01em">174</text></g>
<g id="e-ile210" class="n" transform="translate(1569,2417)"><use href="#g" transform="rotate(-6)"/><text x=".08em" y="-.29em">ILE</text><text x="-.08em" y="1.01em">210</text></g>
<g id="e-leu176" class="n" transform="translate(1939,2522)"><use href="#g" transform="rotate(45)"/><text x=".08em" y="-.29em">LEU</text><text x="-.08em" y="1.01em">176</text></g>
<g id="e-ser211" class="n" transform="translate(1653,2548)"><use href="#c" transform="rotate(-40)"/><text x=".08em" y="-.29em">SER</text><text x="-.08em" y="1.01em">211</text></g>
<g id="e-thr177" class="n" transform="translate(1799,2602)"><use href="#c" transform="rotate(-90)"/><text x=".08em" y="-.29em">THR</text><text x="-.08em" y="1.01em">177</text></g>
</g>

<!-- PANEL F -->
<g id="panel-f" class="pF">
<text class="L" x="2843" y="1670">F</text>
<g transform="translate(2750.6,1538.5) scale(.8028,.7433)">
<g id="f-connectors">
<path class="bb" d="M465,175C430,175 385,170 365,187M315,300C300,340 300,390 315,436C330,480 340,520 338,568M315,695C300,725 255,740 243,780M250,905C255,960 265,1005 278,1043C290,1085 310,1115 326,1148L387,1290"/>
<path class="bb" d="M130,695L119,862L111,985L100,1155"/>
<path class="bb" d="M1052,285L1133,398L1197,484L1275,595"/>
<path class="bb" d="M1398,995C1400,1030 1405,1055 1392,1085M1340,1195C1320,1230 1300,1240 1268,1255M1170,1310C1145,1322 1110,1330 1080,1333M965,1352C930,1358 880,1360 838,1360"/>
<path class="bb" d="M1559,1095L1548,1205"/>
<circle class="d" cx="315" cy="436" r="9"/><circle class="d" cx="278" cy="1043" r="9"/><circle class="d" cx="326" cy="1148" r="9"/><circle class="d" cx="119" cy="862" r="9"/><circle class="d" cx="111" cy="985" r="9"/><circle class="d" cx="1133" cy="398" r="9"/><circle class="d" cx="1197" cy="484" r="9"/>
</g>
<g id="f-pocket">
<path class="rb" style="stroke:url(#rf1)" d="M510,335C580,360 650,405 700,430C725,442 740,447 750,441"/>
<path class="rb" style="stroke:url(#rf2)" d="M745,444C755,442 762,432 770,420C776,411 784,402 792,394"/>
<path class="rb" style="stroke:#00d4f5" d="M790,396C820,365 855,340 890,340C925,343 938,385 948,435"/>
<path class="rb" style="stroke:url(#rf3)" d="M947,430C955,480 962,530 965,590C966,620 966,640 968,665"/>
<path class="rb" style="stroke:url(#rf4)" d="M968,660C970,685 985,682 1010,687C1080,697 1150,725 1210,770"/>
<path class="rb" style="stroke:url(#rf5)" d="M447,508C470,570 485,630 470,690L468,697"/>
<path class="rb" d="M470,688C450,760 400,840 380,920C360,1000 365,1070 410,1130C470,1210 560,1245 640,1245C720,1240 800,1210 900,1195C960,1189 1040,1180 1100,1152"/>
<path class="rb" style="stroke:url(#rf6)" d="M1095,1154C1120,1143 1140,1125 1160,1110C1195,1085 1220,1060 1242,1025"/>
</g>
<g id="f-ligand">
<circle cx="515" cy="435" r="29" fill="url(#hl)"/><circle cx="1144" cy="835" r="29" fill="url(#hl)"/><circle cx="1165" cy="982" r="29" fill="url(#hl)"/>
<path class="m" d="M515,435L612,478M642,520L656,630L778,683L797,823L693,910L572,858L553,717L656,630M665,650L760,692M780,832L700,893M568,730L583,843M778,683L856,618M877,562L863,450M797,823L919,877L1022,788L1144,840L1163,982L1060,1070L938,1018L919,877M937,875L1018,805M1135,855L1150,965M955,1015L1050,1052M938,1018L835,1105L715,1052L693,910M572,858L470,946L488,1088L585,1130"/>
<polygon class="wedge" points="715,1052 650,1095 663,1110"/>
<path class="t" style="stroke:url(#fp)" d="M580,1168C530,1180 500,1200 475,1245"/>
<path class="t mg" d="M585,1207C570,1240 565,1285 505,1292"/>
</g>
</g>
<text class="l ox" x="3262" y="1903">O</text><text class="l ox" x="3458" y="1981">O</text><text class="l az" x="3249" y="2386">N<tspan class="s" dy="-10">+</tspan></text><text class="l az" x="3249" y="2419">H<tspan class="s" dy="8">2</tspan></text><text class="l r" x="3300" y="2309">R</text>
<g id="f-cys275" class="n" transform="translate(3165,1657)"><use href="#g" transform="rotate(90)"/><text x=".08em" y="-.29em">CYS</text><text x="-.08em" y="1.01em">275</text></g>
<g id="f-cys276" class="n" transform="translate(3024,1721)"><use href="#g" transform="rotate(-158)"/><text x=".08em" y="-.29em">CYS</text><text x="-.08em" y="1.01em">276</text></g>
<g id="f-leu321" class="n" transform="translate(3571,1713)"><use href="#g" transform="rotate(128)"/><text x=".08em" y="-.29em">LEU</text><text x="-.08em" y="1.01em">321</text></g>
<g id="f-leu258" class="n" transform="translate(2853,2007)"><use href="#g" transform="rotate(45)"/><text x=".08em" y="-.29em">LEU</text><text x="-.08em" y="1.01em">258</text></g>
<g id="f-cys278" class="n" transform="translate(3012,2014)"><use href="#g" transform="rotate(60)"/><text x=".08em" y="-.29em">CYS</text><text x="-.08em" y="1.01em">278</text></g>
<g id="f-val324" class="n" transform="translate(3809,2014)"><use href="#g" transform="rotate(135)"/><text x=".08em" y="-.29em">VAL</text><text x="-.08em" y="1.01em">324</text></g>
<g id="f-thr279" class="n" transform="translate(2942,2163)"><use href="#c" transform="rotate(-33)"/><text x=".08em" y="-.29em">THR</text><text x="-.08em" y="1.01em">279</text></g>
<g id="f-met330" class="n" transform="translate(3881,2230)"><use href="#g" transform="rotate(-137)"/><text x=".08em" y="-.29em">MET</text><text x="-.08em" y="1.01em">330</text></g>
<g id="f-met220" class="n" transform="translate(4010,2312)"><use href="#g" transform="rotate(-171)"/><text x=".08em" y="-.29em">MET</text><text x="-.08em" y="1.01em">220</text></g>
<g id="f-asn219" class="n" transform="translate(3990,2480)"><use href="#c" transform="rotate(201)"/><text x=".08em" y="-.29em">ASN</text><text x="-.08em" y="1.01em">219</text></g>
<g id="f-leu331" class="n" transform="translate(3844,2386)"><use href="#g" transform="rotate(45)"/><text x=".08em" y="-.29em">LEU</text><text x="-.08em" y="1.01em">331</text></g>
<g id="f-val332" class="n" transform="translate(3724,2492)"><use href="#g" transform="rotate(65)"/><text x=".08em" y="-.29em">VAL</text><text x="-.08em" y="1.01em">332</text></g>
<g id="f-ala333" class="n" transform="translate(3571,2538)"><use href="#g" transform="rotate(65)"/><text x=".08em" y="-.29em">ALA</text><text x="-.08em" y="1.01em">333</text></g>
<g id="f-tyr334" class="n" transform="translate(3373,2557)"><use href="#g" transform="rotate(-128)"/><text x=".08em" y="-.29em">TYR</text><text x="-.08em" y="1.01em">334</text></g>
<g id="f-val255" class="n" transform="translate(2825,2442)"><use href="#g" transform="rotate(-37)"/><text x=".08em" y="-.29em">VAL</text><text x="-.08em" y="1.01em">255</text></g>
<g id="f-glu282" class="n" transform="translate(3071,2542)"><use href="#o" transform="rotate(-45)"/><text x=".08em" y="-.29em">GLU</text><text x="-.08em" y="1.01em">282</text></g>
</g>
</svg>
